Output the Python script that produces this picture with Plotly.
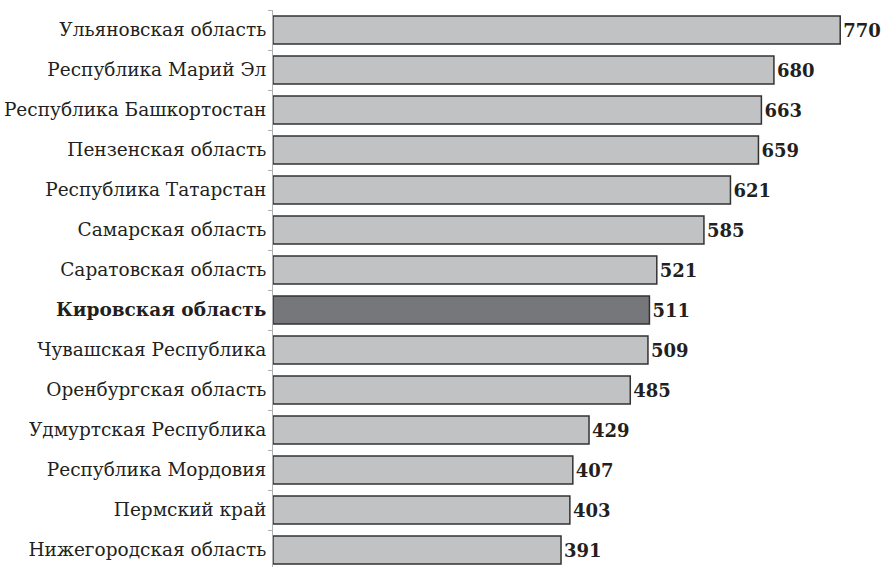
import plotly.graph_objects as go

regions = [
    "Ульяновская область",
    "Республика Марий Эл",
    "Республика Башкортостан",
    "Пензенская область",
    "Республика Татарстан",
    "Самарская область",
    "Саратовская область",
    "Кировская область",
    "Чувашская Республика",
    "Оренбургская область",
    "Удмуртская Республика",
    "Республика Мордовия",
    "Пермский край",
    "Нижегородская область",
]
values = [770, 680, 663, 659, 621, 585, 521, 511, 509, 485, 429, 407, 403, 391]
highlight = "Кировская область"

colors = ["#76777b" if r == highlight else "#c1c2c4" for r in regions]
ticktext = [f"<b>{r}</b>" if r == highlight else r for r in regions]

fig = go.Figure(
    go.Bar(
        x=values,
        y=regions,
        orientation="h",
        marker=dict(color=colors, line=dict(color="#333333", width=1.5)),
        text=[f"<b>{v}</b>" for v in values],
        textposition="outside",
        textfont=dict(family="DejaVu Serif", size=18, color="#231f20"),
        cliponaxis=False,
        width=0.7,
    )
)

fig.update_layout(
    width=883,
    height=567,
    margin=dict(l=273, r=3, t=10, b=0),
    plot_bgcolor="white",
    paper_bgcolor="white",
    showlegend=False,
    font=dict(family="DejaVu Serif", size=18.5, color="#231f20"),
    xaxis=dict(
        range=[0, 824],
        visible=False,
        showgrid=False,
        zeroline=False,
    ),
    yaxis=dict(
        range=[13.425, -0.5],
        tickmode="array",
        tickvals=regions,
        ticktext=ticktext,
        showline=True,
        linecolor="#b0b0b0",
        linewidth=1,
        ticks="outside",
        tickson="boundaries",
        ticklen=4,
        tickcolor="#b0b0b0",
        ticklabelstandoff=2,
        showgrid=False,
    ),
)

fig.write_html(
    "out.html",
    config={"displayModeBar": False},
    post_script="document.body.style.margin='0';",
)
